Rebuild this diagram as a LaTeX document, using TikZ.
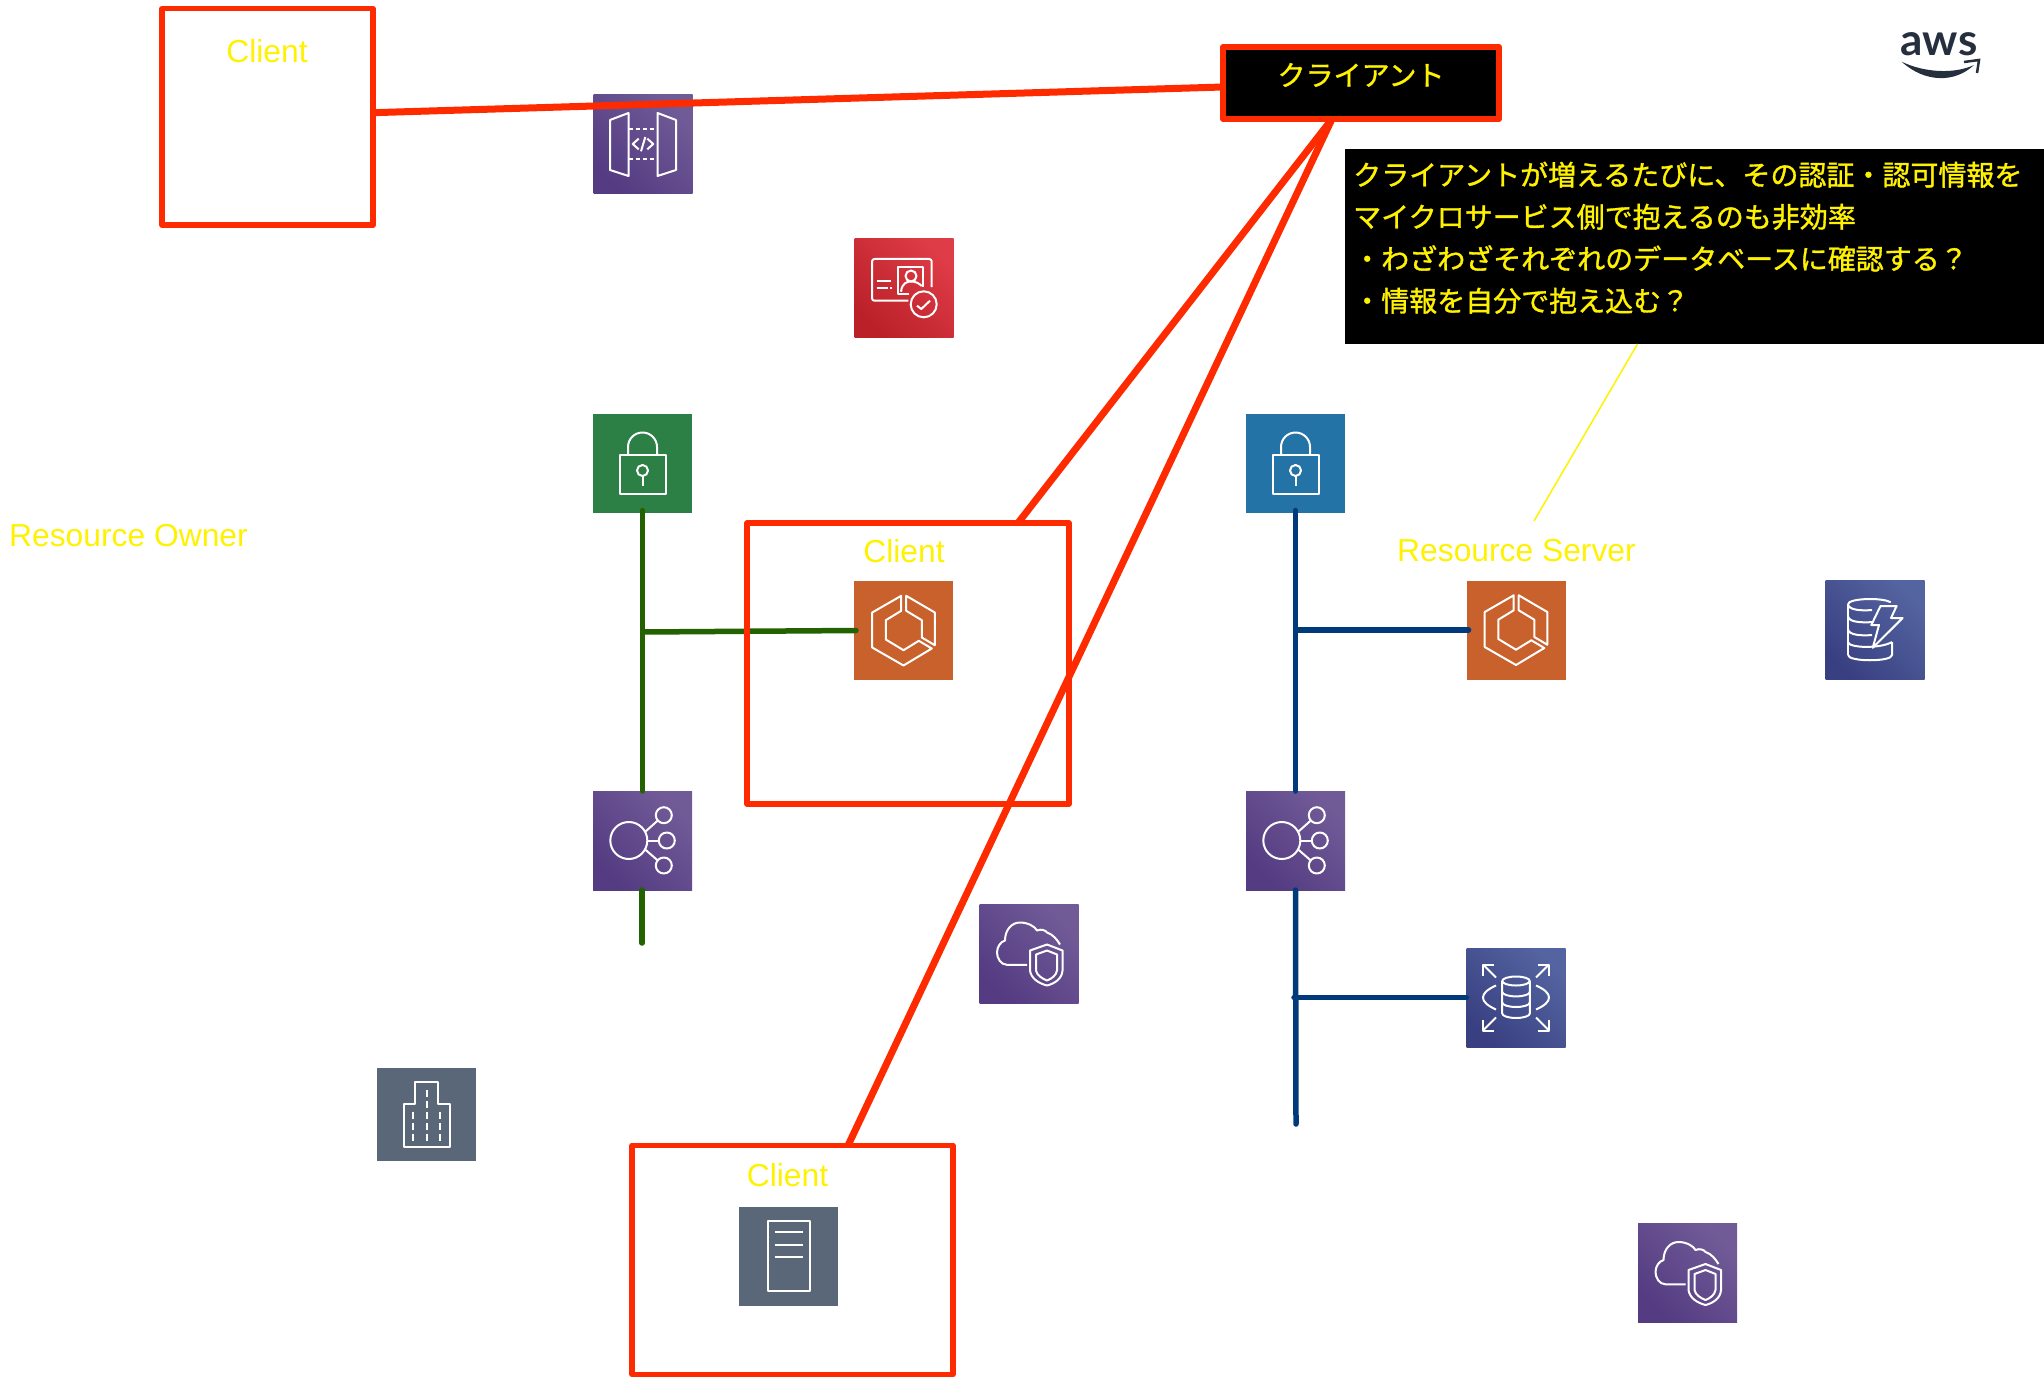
\documentclass[tikz,border=0pt]{standalone}
\usepackage{fontspec}
\setmainfont{Liberation Sans}
\newfontfamily\jpfont[FakeBold=1.2]{Noto Sans CJK JP}
\newfontfamily\logofont{Lato}
\usetikzlibrary{shapes,arrows}

\definecolor{redbox}{HTML}{FE2B00}
\definecolor{greenbus}{HTML}{246100}
\definecolor{bluebus}{HTML}{013A7B}
\definecolor{awsink}{HTML}{252F3E}

\tikzstyle{icon} = [rectangle, minimum width=99pt, minimum height=99pt, inner sep=0pt, outer sep=0pt]
\tikzstyle{purpleicon} = [icon, top color={rgb,255:red,113;green,91;blue,151}, bottom color={rgb,255:red,84;green,59;blue,130}, shading angle=-45]
\tikzstyle{redicon} = [icon, top color={rgb,255:red,222;green,60;blue,70}, bottom color={rgb,255:red,187;green,32;blue,40}, shading angle=-45]
\tikzstyle{indigoicon} = [icon, top color={rgb,255:red,84;green,100;blue,160}, bottom color={rgb,255:red,57;green,64;blue,130}, shading angle=-45]
\tikzstyle{orangeicon} = [icon, fill={rgb,255:red,200;green,97;blue,44}]
\tikzstyle{greenicon} = [icon, fill={rgb,255:red,44;green,127;blue,69}]
\tikzstyle{blueicon} = [icon, fill={rgb,255:red,36;green,115;blue,166}]
\tikzstyle{slateicon} = [icon, fill={rgb,255:red,89;green,103;blue,121}]
\tikzstyle{clientbox} = [rectangle, draw=redbox, line width=5.5pt, line join=round, inner sep=0pt, outer sep=0pt]
\tikzstyle{blackbox} = [rectangle, draw=redbox, fill=black, line width=6pt, line join=round, inner sep=0pt, outer sep=0pt, minimum width=276pt, minimum height=72pt]
\tikzstyle{notebox} = [rectangle, fill=black, inner sep=0pt, outer sep=0pt, minimum width=699pt, minimum height=195pt, anchor=north west]
\tikzstyle{tag} = [text=yellow, font=\fontsize{31.8}{36}\selectfont, inner sep=0pt]
\tikzstyle{jptag} = [text=yellow, font=\jpfont\fontsize{28}{42}\selectfont, inner sep=0pt]
\tikzstyle{redline} = [draw=redbox, line width=7pt]
\tikzstyle{greenline} = [draw=greenbus, line width=5.5pt, line cap=round]
\tikzstyle{blueline} = [draw=bluebus, line width=5.5pt, line cap=round]
\tikzstyle{yellowline} = [draw=yellow, line width=1.5pt]
\tikzstyle{glyph} = [draw=white, line width=2pt, line join=round]

\tikzset{
  lockglyph/.pic={
    \draw [glyph] (-23,-8) rectangle (23.5,31);
    \draw [glyph] (-14.5,-8) -- (-14.5,-16) arc [start angle=180, end angle=360, radius=14.5] -- (14.5,-8);
    \draw [glyph] (0,7.5) circle [radius=5.5];
    \draw [glyph] (0,13) -- (0,23);
  },
  gateglyph/.pic={
    \draw [glyph] (-33,-24) -- (-14.5,-31) -- (-14.5,32) -- (-33,26) -- cycle;
    \draw [glyph] (14.5,-31) -- (33,-24) -- (33,26) -- (14.5,32) -- cycle;
    \draw [glyph, dash pattern=on 4pt off 3pt] (-14.5,-14.7) -- (14.5,-14.7);
    \draw [glyph, dash pattern=on 4pt off 3pt] (-14.5,15) -- (14.5,15);
    \draw [glyph] (-4.3,-5.3) -- (-10.3,0) -- (-4.3,5.3);
    \draw [glyph] (4.3,-5.3) -- (10.3,0) -- (4.3,5.3);
    \draw [glyph] (2.3,-7) -- (-2,7.3);
  },
  certglyph/.pic={
    \draw [glyph, rounded corners=2.5pt] (4.3,12.7) -- (-32,12.7) -- (-32,-29) -- (27.7,-29) -- (27.7,-1);
    \draw [glyph] (5.3,6) -- (-5.7,6) -- (-5.7,-21.3) -- (19.3,-21.3) -- (19.3,-1);
    \draw [glyph] (7,-12) circle [radius=5.5];
    \draw [glyph] (-3,3.7) .. controls (-2,-5) and (3,-6.5) .. (7,-6.5) .. controls (11,-6.5) and (15,-5) .. (17.7,-2);
    \draw [glyph] (-27.3,-6.7) -- (-13,-6.7);
    \draw [glyph] (-27.3,0.3) -- (-16.3,0.3);
    \draw [glyph] (-14,0.3) -- (-11.7,0.3);
    \draw [glyph] (19.7,16.3) circle [radius=13];
    \draw [glyph] (13,17.7) -- (17.3,21) -- (26,12.7);
  },
  hexglyph/.pic={
    \draw [glyph] (-2.3,-34.7) -- (-31.3,-18) -- (-31.3,17) -- (0,35) -- (28.3,18) -- (15.3,10.3) -- (0,19.7) -- (-17.7,9) -- (-17.7,-10.3) -- (-2.3,-19.7) -- cycle;
    \draw [glyph] (2.7,-34.7) -- (31.3,-18) -- (31.3,14.7) -- (18.3,7) -- (18.3,-10.3) -- (2.7,-19.7) -- cycle;
  },
  balanceglyph/.pic={
    \draw [glyph] (-13.7,0) circle [radius=18.5];
    \foreach \nx/\ny in {21.3/-25.3, 24.3/0, 21.3/25}
      \draw [glyph] (\nx,\ny) circle [radius=8];
    \draw [glyph] (3,-9) -- (15.3,-20);
    \draw [glyph] (5.3,0) -- (17,0);
    \draw [glyph] (3,9.3) -- (15.3,20);
  },
  dynamoglyph/.pic={
    \draw [glyph] (-27,-26) arc [start angle=180, end angle=340, x radius=22, y radius=5];
    \draw [glyph] (-27,-26) -- (-27,25);
    \draw [glyph] (-27,-26) .. controls (-27,-20) and (-14,-19) .. (-3,-20);
    \draw [glyph] (-27,-14) .. controls (-27,-8) and (-14,-7) .. (-2,-8);
    \draw [glyph] (-27,-1) .. controls (-27,5) and (-14,6) .. (-3,5);
    \draw [glyph] (-27,12) .. controls (-27,18) and (5,19) .. (17,12);
    \draw [glyph] (-27,25) .. controls (-27,32) and (17,32) .. (17,25) -- (17,12);
    \draw [glyph] (5.5,-24) -- (21.6,-24) -- (16,-12) -- (27.6,-12) -- (-2.3,17.8) -- (4,-5) -- (-3.7,-5) -- cycle;
  },
  rdsglyph/.pic={
    \draw [glyph] (0,-16.5) ellipse [x radius=13.8, y radius=4.5];
    \draw [glyph] (-13.8,-16.5) -- (-13.8,16) arc [start angle=180, end angle=0, x radius=13.8, y radius=4.5] -- (13.8,-16.5);
    \draw [glyph] (-13.8,-5.6) arc [start angle=180, end angle=0, x radius=13.8, y radius=4.5];
    \draw [glyph] (-13.8,5) arc [start angle=180, end angle=0, x radius=13.8, y radius=4.5];
    \draw [glyph] (-20,-12) .. controls (-29,-8) and (-33,-4) .. (-33,0) .. controls (-33,4) and (-29,8) .. (-20,12);
    \draw [glyph] (20,-12) .. controls (29,-8) and (33,-4) .. (33,0) .. controls (33,4) and (29,8) .. (20,12);
    \foreach \sx/\sy in {1/1, -1/1, 1/-1, -1/-1} {
      \draw [glyph] (33*\sx,22*\sy) -- (33*\sx,33*\sy) -- (22*\sx,33*\sy);
      \draw [glyph] (33*\sx,33*\sy) -- (20*\sx,20*\sy);
    }
  },
  shieldglyph/.pic={
    \draw [glyph] (-2,11.3) -- (-22,11.3) .. controls (-28,11.3) and (-32,5) .. (-32,-1) .. controls (-32,-7) and (-28,-12) .. (-24,-13) .. controls (-24,-24) and (-17,-31) .. (-9,-31) .. controls (-1,-31) and (6,-27) .. (8,-23) .. controls (12,-25) and (17,-23) .. (18,-21) .. controls (24,-19) and (28,-14) .. (31,-9);
    \draw [glyph] (18,-9) -- (1,-3) -- (1,17) .. controls (2,25) and (10,30) .. (18,32) .. controls (26,30) and (33,25) .. (33.5,17) -- (33.5,-3) -- cycle;
    \draw [glyph] (18,-3) -- (7,1) -- (7,17) .. controls (8,22) and (13,25) .. (18,27) .. controls (23,25) and (27,22) .. (28,17) -- (28,1) -- cycle;
  },
  serverglyph/.pic={
    \draw [glyph] (-21,-34.7) rectangle (21,34.7);
    \draw [glyph] (-14,-23.7) -- (14,-23.7);
    \draw [glyph] (-14,-11.3) -- (14,-11.3);
    \draw [glyph] (-14,1.3) -- (14,1.3);
  },
  buildingglyph/.pic={
    \draw [glyph] (-23,32.7) -- (-23,-10.7) -- (-11.4,-10.7) -- (-11.4,-33) -- (11,-33) -- (11,-10.7) -- (23,-10.7) -- (23,32.7) -- cycle;
    \foreach \bx in {-13.3, 0, 13.3}
      \foreach \by in {0.7, 11.7, 22.7}
        \draw [glyph] (\bx,\by-3.5) -- (\bx,\by+3.5);
    \foreach \by in {-21.3, -10}
      \draw [glyph] (0,\by-3.5) -- (0,\by+3.5);
  }
}

\begin{document}
\begin{tikzpicture}[x=1pt, y=-1pt]

    \useasboundingbox (0,0) rectangle (2044,1388);

    % Place icons
    \node [purpleicon] (gateway) at (643,144) {};
    \node [redicon, right of=gateway, node distance=261pt, yshift=-144pt] (certificate) {};
    \node [greenicon] (lockgreen) at (642.5,463) {};
    \node [purpleicon, below of=lockgreen, node distance=377.5pt] (balancergreen) {};
    \node [orangeicon] (hexclient) at (903.5,630.5) {};
    \node [blueicon] (lockblue) at (1295.5,463) {};
    \node [purpleicon, below of=lockblue, node distance=377.5pt] (balancerblue) {};
    \node [orangeicon] (hexserver) at (1516,630) {};
    \node [indigoicon, right of=hexserver, node distance=359pt] (dynamo) {};
    \node [indigoicon, below of=hexserver, node distance=367.5pt] (rds) {};
    \node [purpleicon] (shieldleft) at (1029,953.5) {};
    \node [purpleicon] (shieldright) at (1687.5,1273) {};
    \node [slateicon, minimum height=93pt] (building) at (426.5,1114.5) {};
    \node [slateicon] (server) at (788.5,1256) {};

    % Draw glyphs
    \pic at (gateway) {gateglyph};
    \pic at (certificate) {certglyph};
    \pic at (lockgreen) {lockglyph};
    \pic at (balancergreen) {balanceglyph};
    \pic at (hexclient) {hexglyph};
    \pic at (lockblue) {lockglyph};
    \pic at (balancerblue) {balanceglyph};
    \pic at (hexserver) {hexglyph};
    \pic at (dynamo) {dynamoglyph};
    \pic at (rds) {rdsglyph};
    \pic at (shieldleft) {shieldglyph};
    \pic at (shieldright) {shieldglyph};
    \pic at (building) {buildingglyph};
    \pic at (server) {serverglyph};

    % Free ends of the buses
    \coordinate (greenjoin) at (643,632);
    \coordinate (greenend) at (642,943);
    \coordinate (bluejoin) at (1296,630);
    \coordinate (rdsjoin) at (1294,997.5);
    \coordinate (blueend) at (1296,1124);
    \coordinate (yellowend) at (1534,521);

    % Draw buses
    \path [greenline] ([yshift = 2pt] lockgreen.south) -- (balancergreen.north);
    \path [greenline] ([xshift = -0.5pt] balancergreen.south) -- (greenend);
    \path [greenline] (greenjoin) -- ([xshift = 2pt] hexclient.west);
    \path [blueline] ([yshift = 2pt] lockblue.south) -- (balancerblue.north);
    \path [blueline] (balancerblue.south) -- (blueend);
    \path [blueline] (bluejoin) -- ([xshift = 2pt] hexserver.west);
    \path [blueline] (rdsjoin) -- (rds.west);

    % Place client boxes
    \node [clientbox, minimum width=211pt, minimum height=216.5pt] (clientone) at (267.5,117) {};
    \node [clientbox, minimum width=322pt, minimum height=281pt] (clienttwo) at (908,663.5) {};
    \node [clientbox, minimum width=321pt, minimum height=229pt] (clientthree) at (792.5,1260) {};
    \node [blackbox] (clientjp) at (1361,83) {};
    \node [notebox] (note) at (1345,149) {};

    % Place labels
    \node [tag] (clientonetag) at (267,51) {Client};
    \node [tag] (clienttwotag) at (904,551) {Client};
    \node [tag] (clientthreetag) at (787.5,1175) {Client};
    \node [tag] (ownertag) at (128.5,536) {Resource Owner};
    \node [tag] (servertag) at (1516.5,551) {Resource Server};
    \node [jptag] (clientjptag) at (1361,75) {クライアント};
    \node [jptag, anchor=north west, text width=689pt, align=left] (notetag) at (1353,161.5) {%
      クライアントが増えるたびに、その認証・認可情報を\\
      マイクロサービス側で抱えるのも非効率\\
      ・わざわざそれぞれのデータベースに確認する？\\
      ・情報を自分で抱え込む？};

    % Draw red and yellow edges
    \path [redline] ([yshift = 4.3pt] clientone.east) -- ([yshift = -4pt] clientjp.west);
    \path [redline] ([xshift = -29pt] clientjp.south) -- ([xshift = 110pt] clienttwo.north);
    \path [redline] ([xshift = -29pt] clientjp.south) -- ([xshift = 55.5pt] clientthree.north);
    \path [yellowline] ([xshift = -57pt] note.south) -- (yellowend);

    % Logo
    \node [text=awsink, font=\logofont\bfseries\fontsize{44}{50}\selectfont, inner sep=0pt] (logo) at (1939,44) {aws};
    \fill [awsink] (1901.6,61.7) .. controls (1925,83) and (1955,83) .. (1974,65) .. controls (1955,74) and (1925,73) .. (1901.6,61.7) -- cycle;
    \draw [awsink, line width=2.5pt] (1964,62) -- (1979,60) -- (1977,73);

\end{tikzpicture}
\end{document}
